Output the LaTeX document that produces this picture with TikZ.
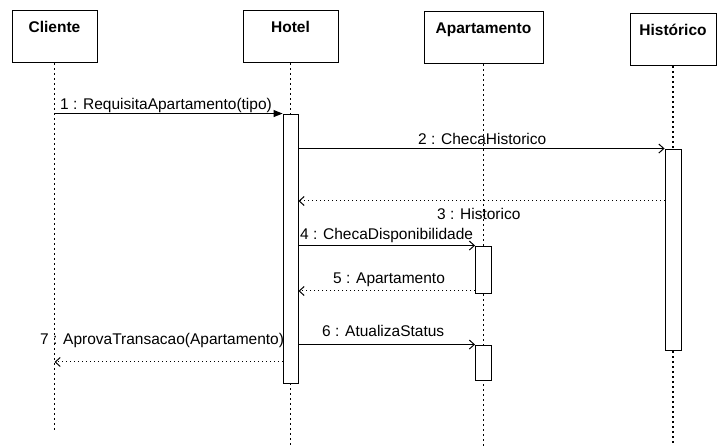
\documentclass[tikz,border=0pt]{standalone}
\usepackage{fontspec}
\setmainfont{Liberation Sans}
\usepackage{tikz}
\usetikzlibrary{arrows.meta}

\begin{document}
\begin{tikzpicture}[x=1pt,y=-1pt,
  objbox/.style={draw, line width=1pt, minimum height=52pt, inner sep=4pt,
    text height=18pt, text depth=26pt, font=\fontsize{15.5}{18}\selectfont\bfseries},
  lifeline/.style={line width=1.3pt, dash pattern=on 1.4pt off 3.6pt},
  actbox/.style={draw, fill=white, line width=0.9pt, minimum width=16pt, inner sep=0pt},
  call/.style={line width=1pt, -{Straight Barb[length=5pt,width=9pt]}},
  reply/.style={line width=1pt, dash pattern=on 1pt off 3pt, -{Straight Barb[length=5pt,width=9pt]}},
  msg/.style={font=\fontsize{15.5}{18}\selectfont, inner sep=0pt, anchor=base west}]

\useasboundingbox (0,0) rectangle (718,446);

% objects
\node[objbox, minimum width=85pt] (cliente) at (54.5,37) {Cliente};
\node[objbox, minimum width=95pt] (hotel) at (290.5,37) {Hotel};
\node[objbox, minimum width=119pt] (apart) at (483.5,38) {Apartamento};
\node[objbox, minimum width=86pt] (hist) at (673,40) {Histórico};

% lifelines
\coordinate (clienteend) at (54.5,430);
\coordinate (hotelend) at (290.5,446);
\coordinate (apartend) at (483.5,446);
\coordinate (histend) at (673,446);
\draw[lifeline] (cliente.south) -- (clienteend);
\draw[lifeline] (hotel.south) -- (hotelend);
\draw[lifeline] (apart.south) -- (apartend);
\draw[lifeline] (hist.south) -- (histend);

% activations
\node[actbox, minimum width=15pt, minimum height=269pt] (hotelact) at (290.5,248.5) {};
\node[actbox, minimum height=201pt] (histact) at (673,249.5) {};
\node[actbox, minimum height=47pt] (apartact1) at (483.5,269.5) {};
\node[actbox, minimum height=35pt] (apartact2) at (483.5,362.5) {};

% rows of the replies
\coordinate (y3) at (0,201);
\coordinate (y5) at (0,291);
\coordinate (y7) at (0,362);

% messages
\draw[line width=1pt, -{Triangle[length=9pt,width=7pt]}] (clienteend |- hotelact.north) -- (hotelact.north west);
\node[msg] (m1) at (60,110) {1 : RequisitaApartamento(tipo)};

\draw[call] (hotelact.east |- histact.north) -- (histact.north west);
\node[msg] (m2) at (418,145) {2 : ChecaHistorico};

\draw[reply] (histact.west |- y3) -- (hotelact.east |- y3);
\node[msg] (m3) at (437,220) {3 : Historico};

\draw[call] (hotelact.east |- apartact1.north) -- (apartact1.north west);
\node[msg] (m4) at (300,240) {4 : ChecaDisponibilidade};

\draw[reply] (apartact1.west |- y5) -- (hotelact.east |- y5);
\node[msg] (m5) at (333,284) {5 : Apartamento};

\draw[call] (hotelact.east |- apartact2.north) -- (apartact2.north west);
\node[msg] (m6) at (322,337) {6 : AtualizaStatus};

\draw[reply] (hotelact.west |- y7) -- (clienteend |- y7);
\node[msg] (m7) at (40,345) {7 : AprovaTransacao(Apartamento)};
\end{tikzpicture}
\end{document}
